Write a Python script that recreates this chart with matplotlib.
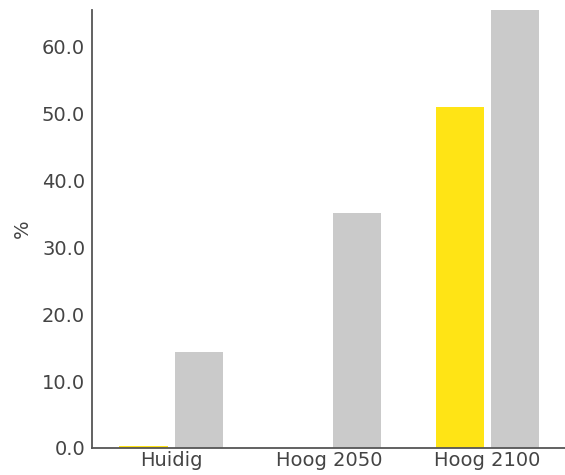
import numpy as np
import matplotlib.pyplot as plt

categories = ["Huidig", "Hoog 2050", "Hoog 2100"]
yellow_vals = [0.3, 0.0, 51.0]
gray_vals = [14.3, 35.1, 66.0]
yticks = [0, 10, 20, 30, 40, 50, 60]

x = np.arange(len(categories))
w = 0.305

fig = plt.figure(figsize=(5.65, 4.75), dpi=100)
ax = fig.add_axes([0.163, 0.057, 0.84, 0.922])

ax.bar(x - 0.175, yellow_vals, width=w, color="#FFE415")
ax.bar(x + 0.175, gray_vals, width=w, color="#CACACA")

ax.set_xlim(-0.5, 2.5)
ax.set_ylim(0, 65.5)
ax.set_xticks(x)
ax.set_xticklabels(categories)
ax.set_yticks(yticks)
ax.set_yticklabels([f"{v:.1f}" for v in yticks])

for s in ["top", "right"]:
    ax.spines[s].set_visible(False)
for s in ["left", "bottom"]:
    ax.spines[s].set_color("#555555")
    ax.spines[s].set_linewidth(1.3)

ax.tick_params(length=0, labelsize=14, colors="#444444")
ax.tick_params(axis="y", pad=5)
ax.tick_params(axis="x", pad=2)
ax.set_ylabel("%", fontsize=14, color="#444444", labelpad=7)

fig.savefig("out.png", dpi=100)
